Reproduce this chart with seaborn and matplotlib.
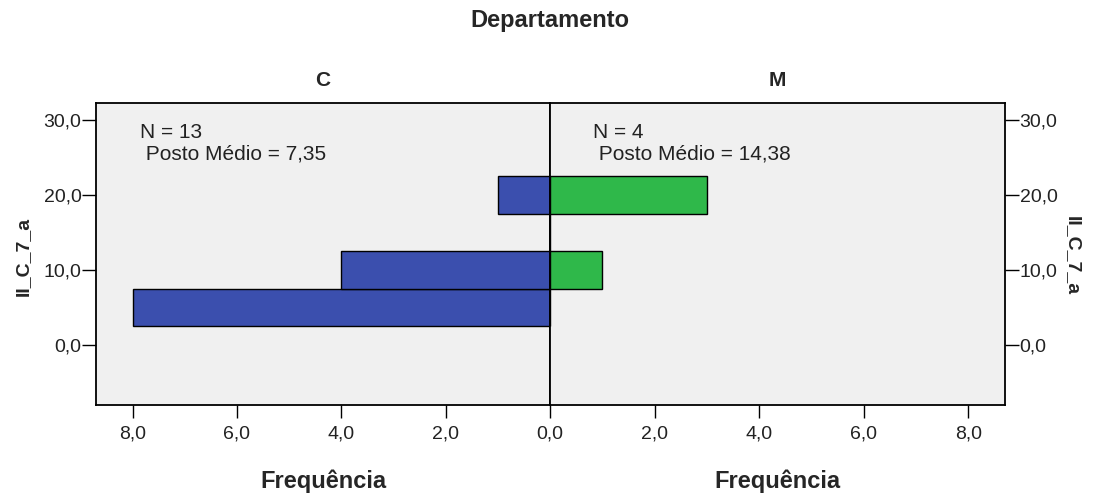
import numpy as np
import pandas as pd
import seaborn as sns
import matplotlib.pyplot as plt
from matplotlib.ticker import FuncFormatter

# Data (histogram bins of II_C_7_a, width 5)
bin_edges = [2.5, 7.5, 12.5, 17.5, 22.5]
bin_mids = [5, 10, 15, 20]
counts_c = [8, 4, 0, 1]
counts_m = [0, 1, 0, 3]
panels = ["C", "M"]
notes = ["N = 13\n Posto Médio = 7,35", "N = 4\n Posto Médio = 14,38"]
colors = ["#3b4fae", "#2fb84a"]

sns.set_style("white")
plt.rcParams['font.family'] = ['Liberation Sans', 'DejaVu Sans']

fig = plt.figure(figsize=(10.98, 5), dpi=100)
ax_l = fig.add_axes([96 / 1098, 95 / 500, 454 / 1098, 302 / 500])
ax_r = fig.add_axes([550 / 1098, 95 / 500, 455 / 1098, 302 / 500])

comma = FuncFormatter(lambda v, p: f"{v:.1f}".replace(".", ","))

for ax, counts, col in zip([ax_l, ax_r], [counts_c, counts_m], colors):
    df = pd.DataFrame({"valor": bin_mids, "freq": counts})
    sns.histplot(data=df, y="valor", weights="freq", bins=bin_edges,
                 color=col, alpha=1, edgecolor="black", linewidth=1, ax=ax)
    ax.set_facecolor("#f0f0f0")
    ax.set_ylim(-8, 32.3)
    ax.set_yticks([0, 10, 20, 30])
    ax.set_xticks([0, 2, 4, 6, 8])
    ax.xaxis.set_major_formatter(comma)
    ax.yaxis.set_major_formatter(comma)
    ax.set_xlabel("")
    ax.set_ylabel("")
    for s in ax.spines.values():
        s.set_color("black")
        s.set_linewidth(1.3)
    ax.tick_params(direction="out", color="black", width=1,
                   labelsize=14, labelcolor="#222222")
    ax.tick_params(axis="x", bottom=True, top=False, length=9, pad=6)
    ax.tick_params(axis="y", length=10, pad=0.5)

ax_l.set_xlim(8.7, 0)
ax_r.set_xlim(0, 8.7)
ax_l.tick_params(axis="y", left=True, right=False, labelleft=True)
ax_r.tick_params(axis="y", left=False, right=True, labelleft=False, labelright=True)
# avoid duplicate 0,0 tick at the center
ax_r.set_xticks([2, 4, 6, 8])

ax_l.text(0.097, 0.935, notes[0], transform=ax_l.transAxes, fontsize=15,
          va="top", ha="left", color="#222222")
ax_r.text(0.095, 0.935, notes[1], transform=ax_r.transAxes, fontsize=15,
          va="top", ha="left", color="#222222")

fig.text(550 / 1098, 1 - 20 / 500, "Departamento", ha="center", va="center",
         fontsize=17, fontweight="bold")
for ax, name in zip([ax_l, ax_r], panels):
    ax.text(0.5, (405 - 80) / 302, name, transform=ax.transAxes, ha="center",
            va="center", fontsize=15, fontweight="bold")
    ax.text(0.5, (405 - 481) / 302, "Frequência", transform=ax.transAxes,
            ha="center", va="center", fontsize=17, fontweight="bold")

fig.text(23 / 1098, 1 - 256 / 500, "II_C_7_a", rotation=90, ha="center",
         va="center", fontsize=14, fontweight="bold")
fig.text(1072 / 1098, 1 - 256 / 500, "II_C_7_a", rotation=270, ha="center",
         va="center", fontsize=14, fontweight="bold")

fig.savefig("out.png", dpi=100, facecolor="white")
